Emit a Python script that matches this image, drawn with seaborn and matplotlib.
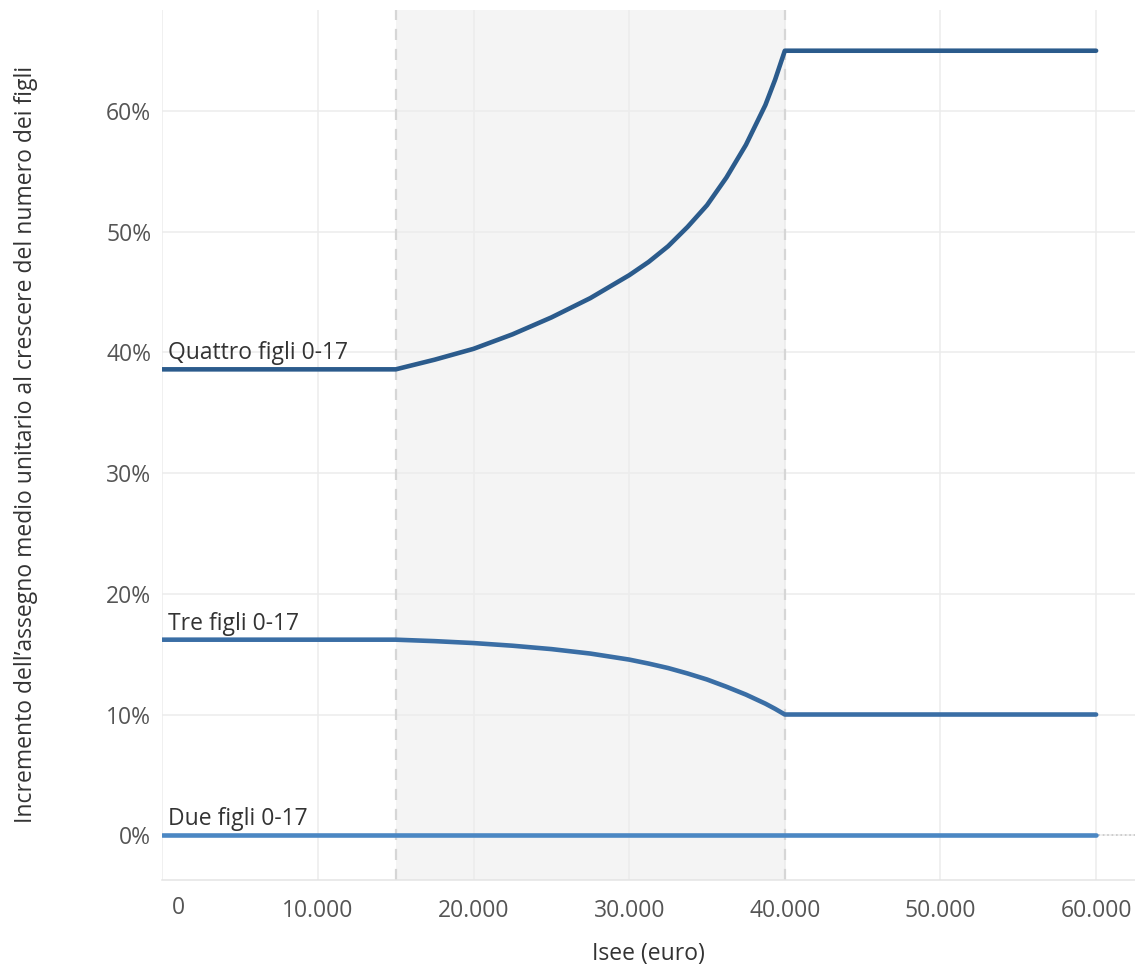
import matplotlib

matplotlib.use("Agg")

import matplotlib.pyplot as plt
import matplotlib.transforms as mtransforms
import pandas as pd
import seaborn as sns
from matplotlib.ticker import FuncFormatter, MultipleLocator

# values (percent)
isee = [0, 15000, 17500, 20000, 22500, 25000, 27500, 30000, 31250, 32500, 33750,
        35000, 36250, 37500, 38750, 39375, 40000, 60000]
quattro = [38.6, 38.6, 39.4, 40.3, 41.5, 42.9, 44.5, 46.4, 47.5, 48.8, 50.4,
           52.2, 54.5, 57.2, 60.5, 62.6, 65.0, 65.0]
tre = [16.2, 16.2, 16.08, 15.92, 15.7, 15.42, 15.05, 14.55, 14.22, 13.85, 13.4,
       12.9, 12.3, 11.65, 10.9, 10.47, 10.0, 10.0]
due = [0.0] * len(isee)

series_names = ["Quattro figli 0-17", "Tre figli 0-17", "Due figli 0-17"]
series_values = [quattro, tre, due]
colors = ["#2b5b8c", "#3a6ea5", "#4b87c3"]
band = (15000, 40000)

FS = 16.5


def build_frame():
    frames = []
    for name, values in zip(series_names, series_values):
        frames.append(pd.DataFrame({"isee": isee, "value": values, "serie": name}))
    return pd.concat(frames, ignore_index=True)


def plot_chart(df_plt):
    sns.set_theme(style="white", rc={"figure.figsize": [11.35, 9.69]})
    plt.rcParams["font.family"] = ["Open Sans", "DejaVu Sans"]

    f = plt.figure(dpi=100)
    ax = f.add_axes([0.143, 0.092, 0.857, 0.898])

    ax.axvspan(*band, color="#f4f4f4", zorder=0, lw=0)
    for x in band:
        ax.axvline(x, color="#d6d6d6", ls=(0, (5, 4)), lw=1.6, zorder=1)
    ax.axhline(0, color="#c8c8c8", ls=":", lw=1.2, zorder=1)

    sns.lineplot(
        data=df_plt,
        x="isee",
        y="value",
        hue="serie",
        palette=dict(zip(series_names, colors)),
        linewidth=3.3,
        legend=False,
        ax=ax,
        zorder=3,
    )

    # labels sitting on top of each line
    for name, values in zip(series_names, series_values):
        ax.annotate(
            name, xy=(0, values[0]), xytext=(4, 3), textcoords="offset points",
            ha="left", va="bottom", fontsize=FS, color="#333333",
        )

    ax.set_xlim(0, 62500)
    ax.set_ylim(-3.7, 68.4)
    ax.xaxis.set_major_locator(MultipleLocator(10000))
    ax.yaxis.set_major_locator(MultipleLocator(10))
    # the "0" label is drawn shifted right, like in the original
    ax.xaxis.set_major_formatter(
        FuncFormatter(lambda v, _: "" if v == 0 else f"{v:,.0f}".replace(",", "."))
    )
    ax.yaxis.set_major_formatter(FuncFormatter(lambda v, _: f"{v:.0f}%"))
    ax.annotate(
        "0", xy=(0, 0), xycoords=mtransforms.blended_transform_factory(ax.transData, ax.transAxes),
        xytext=(11.5, -20), textcoords="offset points", ha="center", va="center",
        fontsize=FS, color="#555555",
    )

    ax.grid(True, color="#ececec", lw=1.1, zorder=0)
    ax.set_axisbelow(True)
    for side in ["top", "right", "left"]:
        ax.spines[side].set_visible(False)
    ax.spines["bottom"].set_color("#e4e4e4")
    ax.spines["bottom"].set_linewidth(1.1)

    ax.tick_params(axis="x", length=6, color="#ececec", labelsize=FS, labelcolor="#555555", pad=8)
    ax.tick_params(axis="y", length=0, labelsize=FS, labelcolor="#555555", pad=8)

    ax.set_xlabel("Isee (euro)", fontsize=FS, color="#333333")
    ax.set_ylabel(
        "Incremento dell\u2019assegno medio unitario al crescere del numero dei figli",
        fontsize=FS, color="#333333",
    )
    ax.xaxis.set_label_coords(0.5, -0.071)
    ax.yaxis.set_label_coords(-0.128, 0.5)
    return f


def main():
    df = build_frame()
    f = plot_chart(df)
    f.savefig("out.png", dpi=100)


if __name__ == "__main__":
    main()
